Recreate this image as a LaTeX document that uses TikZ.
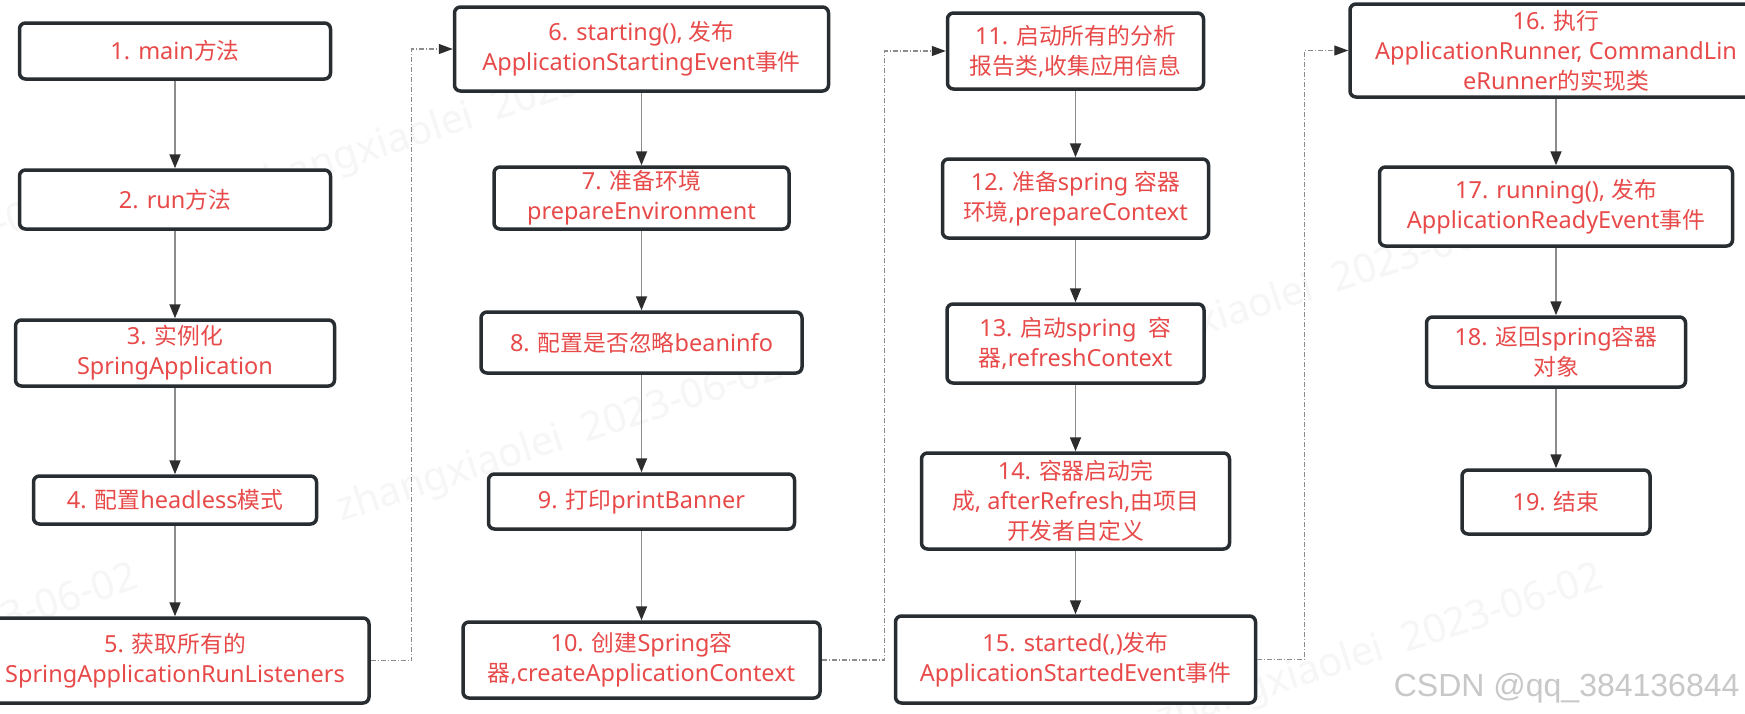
\documentclass[tikz,border=0pt]{standalone}
\usepackage{fontspec}
\setmainfont{Noto Sans}
\newfontfamily\cjk[Scale=0.97]{Noto Sans CJK SC}
\newfontfamily\csdnfont{Liberation Sans}
\usetikzlibrary{arrows.meta}
\definecolor{txtred}{RGB}{232,74,74}
\definecolor{boxline}{RGB}{40,45,50}
\definecolor{linegray}{RGB}{140,140,140}
\definecolor{headdark}{RGB}{45,45,45}
\definecolor{wmgray}{RGB}{246,246,246}
\definecolor{csdngray}{RGB}{200,200,200}
\newcommand\z[1]{{\cjk #1}}
\tikzset{
  box/.style={draw=boxline, line width=3.5pt, rounded corners=6pt, fill=white,
    align=center, text=txtred, font=\fontsize{23.5}{30}\selectfont, inner sep=0pt},
  conn/.style={draw=linegray, line width=1.8pt,
    -{Triangle[length=14pt,width=11pt,color=headdark]}},
  dconn/.style={draw=linegray, line width=1.2pt,
    dash pattern=on 5pt off 2pt on 1pt off 2pt,
    -{Triangle[length=14pt,width=10pt,color=headdark]}},
  wm/.style={text=wmgray, font=\fontsize{40}{40}\selectfont\bfseries, rotate=18},
}
\begin{document}
\begin{tikzpicture}[x=1pt,y=-1pt]
\fill[white] (0,0) rectangle (1745,713);
\useasboundingbox (0,0) rectangle (1745,713);
% watermarks
\node[wm] (w1) at (470,118) {zhangxiaolei\ \ 2023-06-02};
\node[wm] (w2) at (560,440) {zhangxiaolei\ \ 2023-06-02};
\node[wm] (w3) at (1310,290) {zhangxiaolei\ \ 2023-06-02};
\node[wm] (w4) at (1380,650) {zhangxiaolei\ \ 2023-06-02};
\node[wm] (w5) at (-170,282) {zhangxiaolei\ \ 2023-06-02};
\node[wm] (w6) at (-85,650) {zhangxiaolei\ \ 2023-06-02};
% column 1
\node[box, minimum width=311pt, minimum height=56pt] (b1) at (175,51) {1. main\z{方法}};
\node[box, minimum width=311pt, minimum height=59pt] (b2) at (175,199.5) {2. run\z{方法}};
\node[box, minimum width=319pt, minimum height=66pt] (b3) at (175,353) {3. \z{实例化}\\SpringApplication};
\node[box, minimum width=283pt, minimum height=48pt] (b4) at (175,500) {4. \z{配置}headless\z{模式}};
\node[box, minimum width=388pt, minimum height=85pt] (b5) at (175,660.5) {5. \z{获取所有的}\\SpringApplicationRunListeners};
% column 2
\node[box, minimum width=374pt, minimum height=84pt] (b6) at (641.5,49) {6. starting(), \z{发布}\\ApplicationStartingEvent\z{事件}};
\node[box, minimum width=295pt, minimum height=62pt] (b7) at (641.5,198) {7. \z{准备环境}\\prepareEnvironment};
\node[box, minimum width=321pt, minimum height=61pt] (b8) at (641.5,342.5) {8. \z{配置是否忽略}beaninfo};
\node[box, minimum width=306pt, minimum height=55pt] (b9) at (641.5,501.5) {9. \z{打印}printBanner};
\node[box, minimum width=357pt, minimum height=76pt] (b10) at (641.5,660) {10. \z{创建}Spring\z{容}\\\z{器},createApplicationContext};
% column 3
\node[box, minimum width=256pt, minimum height=76pt] (b11) at (1075.5,51) {11. \z{启动所有的分析}\\\z{报告类},\z{收集应用信息}};
\node[box, minimum width=266pt, minimum height=79pt] (b12) at (1075.5,198.5) {12. \z{准备}spring \z{容器}\\\z{环境},prepareContext};
\node[box, minimum width=257pt, minimum height=79pt] (b13) at (1075.5,343.5) {13. \z{启动}spring\ \ \z{容}\\\z{器},refreshContext};
\node[box, minimum width=308pt, minimum height=96pt] (b14) at (1075.5,501) {14. \z{容器启动完}\\\z{成}, afterRefresh,\z{由项目}\\\z{开发者自定义}};
\node[box, minimum width=360pt, minimum height=87pt] (b15) at (1075.5,659.5) {15. started(,)\z{发布}\\ApplicationStartedEvent\z{事件}};
% column 4
\node[box, minimum width=412pt, minimum height=93pt] (b16) at (1556,50.5) {16. \z{执行}\\ApplicationRunner, CommandLin\\eRunner\z{的实现类}};
\node[box, minimum width=353pt, minimum height=79pt] (b17) at (1556,206.5) {17. running(), \z{发布}\\ApplicationReadyEvent\z{事件}};
\node[box, minimum width=259pt, minimum height=70pt] (b18) at (1556,352) {18. \z{返回}spring\z{容器}\\\z{对象}};
\node[box, minimum width=188pt, minimum height=64pt] (b19) at (1556,502) {19. \z{结束}};
% solid connectors
\draw[conn] (b1) -- (b2);
\draw[conn] (b2) -- (b3);
\draw[conn] (b3) -- (b4);
\draw[conn] (b4) -- (b5);
\draw[conn] (b6) -- (b7);
\draw[conn] (b7) -- (b8);
\draw[conn] (b8) -- (b9);
\draw[conn] (b9) -- (b10);
\draw[conn] (b11) -- (b12);
\draw[conn] (b12) -- (b13);
\draw[conn] (b13) -- (b14);
\draw[conn] (b14) -- (b15);
\draw[conn] (b16) -- (b17);
\draw[conn] (b17) -- (b18);
\draw[conn] (b18) -- (b19);
% dashed column links
\draw[dconn] (b5.east) -- ++(41,0) |- (b6.west);
\draw[dconn] (b10.east) -- ++(63,0) |- (b11.west);
\draw[dconn] (b15.east) -- ++(47,0) |- (b16.west);
% credit
\node[text=csdngray, font=\csdnfont\fontsize{32}{32}\selectfont, anchor=base east] (csdn) at (1743,696) {CSDN @qq\_384136844};
\end{tikzpicture}
\end{document}
